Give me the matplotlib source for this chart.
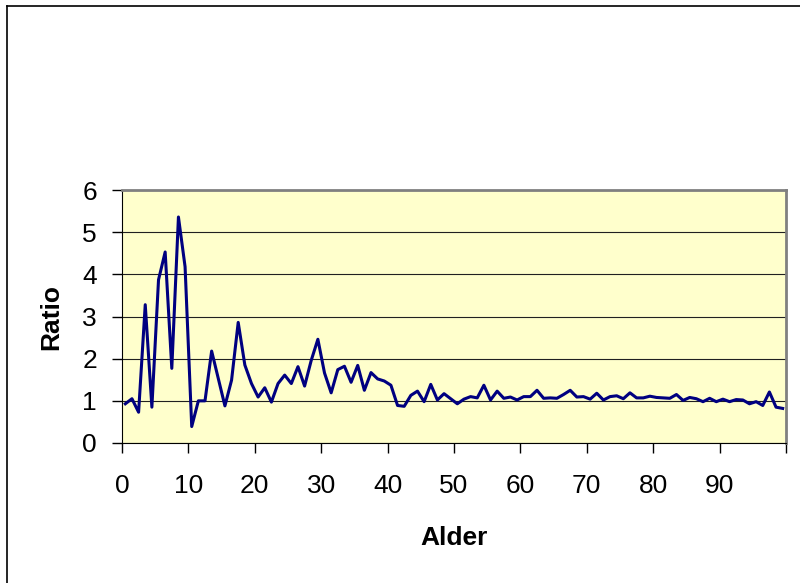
import matplotlib
matplotlib.use('Agg')
import matplotlib.pyplot as plt
import numpy as np

# ages 0..99 and the ratio
alder = np.arange(100)
ratio = [0.93, 1.05, 0.73, 3.28, 0.85, 3.87, 4.53, 1.77, 5.36, 4.18,
         0.39, 1.00, 1.00, 2.18, 1.53, 0.88, 1.49, 2.86, 1.85, 1.41,
         1.09, 1.31, 0.97, 1.41, 1.61, 1.41, 1.81, 1.35, 1.96, 2.46,
         1.66, 1.19, 1.74, 1.82, 1.44, 1.84, 1.25, 1.67, 1.52, 1.47,
         1.37, 0.89, 0.87, 1.13, 1.23, 0.98, 1.39, 1.02, 1.17, 1.05,
         0.93, 1.04, 1.10, 1.07, 1.37, 1.02, 1.23, 1.06, 1.09, 1.02,
         1.10, 1.10, 1.25, 1.06, 1.07, 1.06, 1.15, 1.25, 1.09, 1.10,
         1.04, 1.18, 1.02, 1.10, 1.12, 1.05, 1.19, 1.07, 1.07, 1.11,
         1.08, 1.07, 1.06, 1.15, 1.01, 1.08, 1.05, 0.98, 1.06, 0.98,
         1.04, 0.98, 1.03, 1.02, 0.93, 0.98, 0.89, 1.21, 0.85, 0.82]
xticks = np.arange(0, 101, 10)
xlabels = [str(t) for t in range(0, 91, 10)] + ['']
yticks = np.arange(0, 7)

plt.rcParams['font.family'] = ['Liberation Sans', 'DejaVu Sans']

dpi = 100
f = plt.figure(figsize=(800 / dpi, 583 / dpi), dpi=dpi)
f.patch.set_facecolor('white')

# outer chart border (only left/top are visible in the crop)
f.add_artist(plt.Line2D([6.5 / 800, 6.5 / 800], [0, 1 - 6 / 583], color='black', lw=1.2,
                        transform=f.transFigure))
f.add_artist(plt.Line2D([6.5 / 800, 1], [1 - 6 / 583, 1 - 6 / 583], color='black', lw=1.2,
                        transform=f.transFigure))

ax = f.add_axes([122 / 800, 1 - 443 / 583, 664 / 800, 253 / 583])
ax.set_facecolor('#FFFFCC')

ax.plot(alder + 0.5, ratio, color='#000080', lw=2.2, zorder=3)

ax.set_xlim(0, 100)
ax.set_ylim(0, 6)
ax.set_xticks(xticks)
ax.set_xticklabels(xlabels)
ax.set_yticks(yticks)
ax.yaxis.grid(True, color='#202020', lw=0.8)
ax.set_axisbelow(True)

ax.tick_params(axis='both', labelsize=19, direction='out', length=7, width=1, color='black')
ax.tick_params(axis='x', pad=15)
ax.tick_params(axis='y', pad=11)

for s in ['top', 'right']:
    ax.spines[s].set_color('#808080')
    ax.spines[s].set_linewidth(2)
ax.spines['left'].set_color('black')
ax.spines['bottom'].set_color('black')

ax.set_xlabel('Alder', fontsize=19, fontweight='bold')
ax.set_ylabel('Ratio', fontsize=19, fontweight='bold')
ax.xaxis.set_label_coords(0.5, -0.328)
ax.yaxis.set_label_coords(-0.089, 0.5)

f.savefig('out.png', dpi=dpi)
plt.close()
